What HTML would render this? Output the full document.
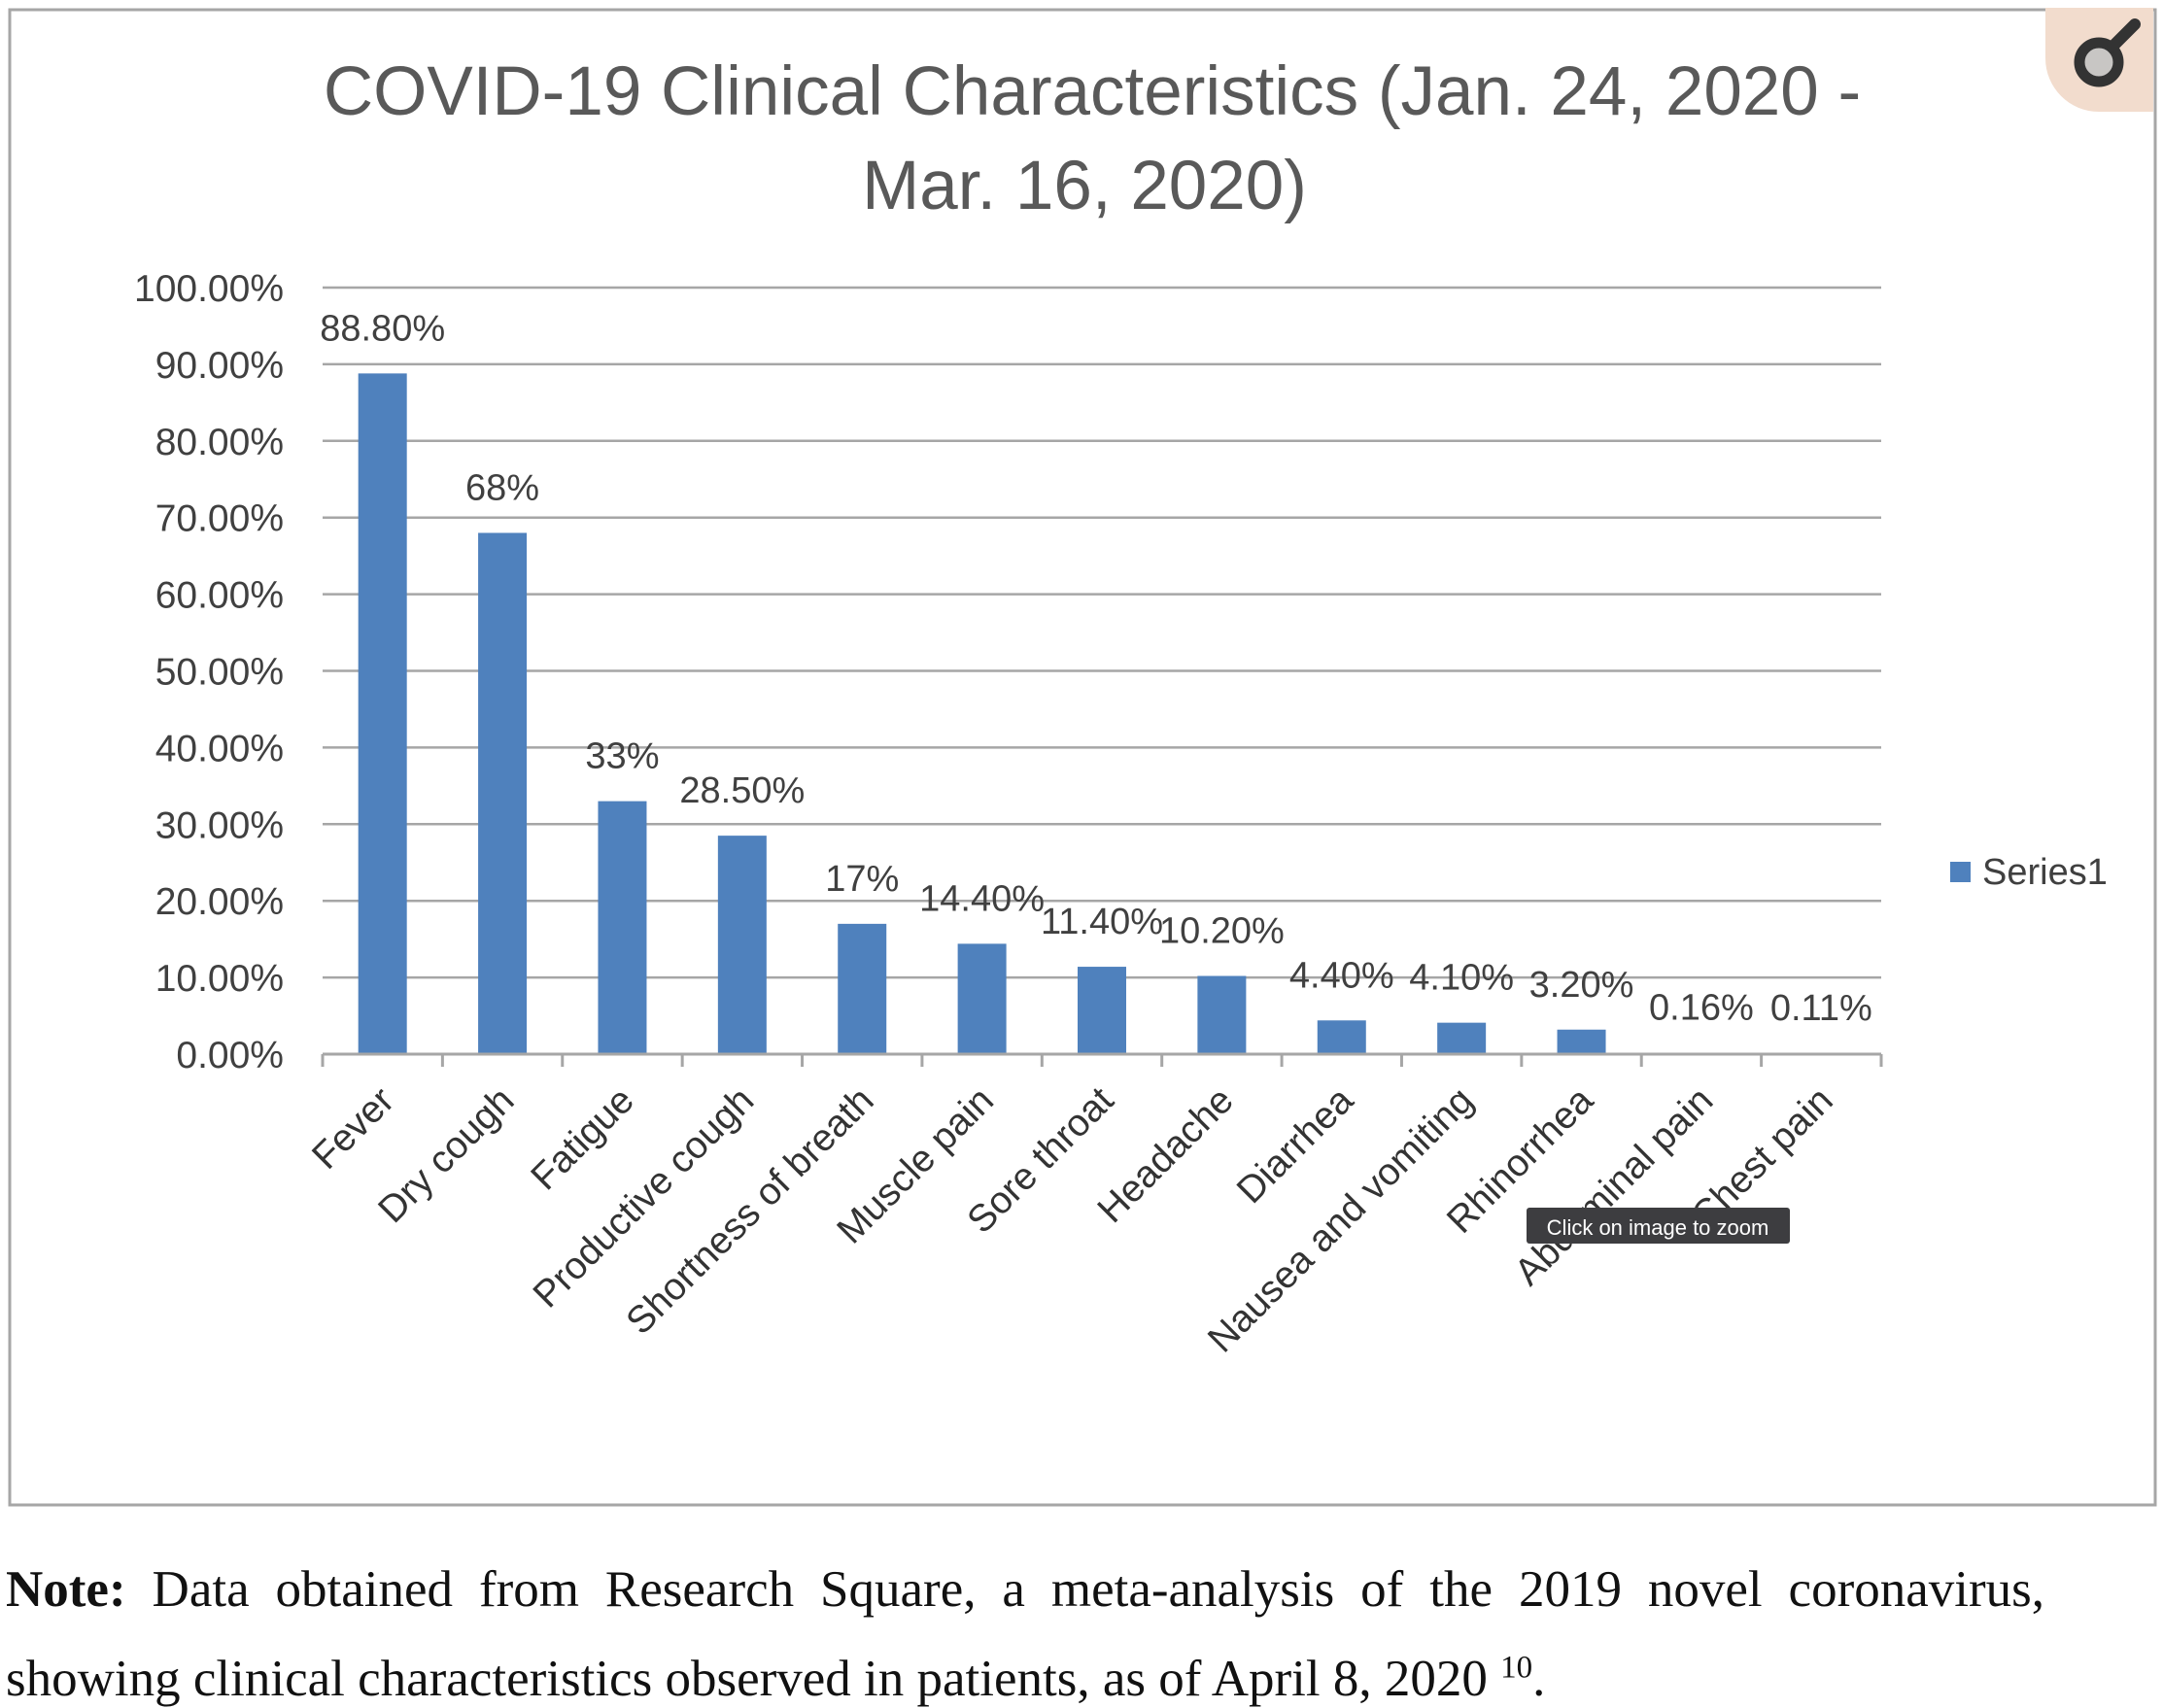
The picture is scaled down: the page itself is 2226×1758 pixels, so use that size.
<!DOCTYPE html>
<html><head><meta charset="utf-8"><style>
html,body{margin:0;padding:0;background:#fff;width:2226px;height:1758px;overflow:hidden}
svg{display:block}
.note{position:absolute;left:6px;width:2098px;font-family:"Liberation Serif",serif;font-size:53px;color:#111;text-align:justify;text-align-last:justify;line-height:53px}
</style></head><body>
<svg id="chart" width="2226" height="1758" xmlns="http://www.w3.org/2000/svg" style="position:absolute;left:0;top:0">
<rect x="10" y="10" width="2208" height="1539" fill="#fff" stroke="#a6a6a6" stroke-width="3"/>
<text x="1124" y="118" text-anchor="middle" font-family="Liberation Sans, sans-serif" font-size="71" fill="#595959">COVID-19 Clinical Characteristics (Jan. 24, 2020 -</text>
<text x="1116" y="215" text-anchor="middle" font-family="Liberation Sans, sans-serif" font-size="71" fill="#595959">Mar. 16, 2020)</text>
<g id="grid"></g><g id="bars"></g><g id="labels"></g><g id="xaxis"></g>
<rect x="2007" y="887" width="21" height="21" fill="#4f81bd"/>
<text x="2040" y="910" font-family="Liberation Sans, sans-serif" font-size="38" fill="#404040">Series1</text>
<g>
<path d="M2105 8 H2216 V115 H2160 A55 55 0 0 1 2105 60 Z" fill="#f2dccd"/>
<circle cx="2160" cy="64" r="20" fill="#c8c6c4" stroke="#333" stroke-width="11"/>
<line x1="2174" y1="48" x2="2197" y2="25" stroke="#333" stroke-width="12" stroke-linecap="round"/>
</g>
<g>
<rect x="1571" y="1243" width="271" height="37" rx="3" fill="#3d3d40"/>
<text x="1706" y="1271" text-anchor="middle" font-family="Liberation Sans, sans-serif" font-size="22" fill="#fff">Click on image to zoom</text>
</g>
</svg>
<div class="note" style="top:1610px"><b>Note:</b> Data obtained from Research Square, a meta-analysis of the 2019 novel coronavirus,</div>
<div class="note" style="top:1702px;text-align-last:left">showing clinical characteristics observed in patients, as of April 8, 2020 <sup style="font-size:33px;line-height:0">10</sup>.</div>
<script>
const categories=["Fever","Dry cough","Fatigue","Productive cough","Shortness of breath","Muscle pain","Sore throat","Headache","Diarrhea","Nausea and vomiting","Rhinorrhea","Abdominal pain","Chest pain"];
const values=[88.8,68,33,28.5,17,14.4,11.4,10.2,4.4,4.1,3.2,0.16,0.11];
const valueLabels=["88.80%","68%","33%","28.50%","17%","14.40%","11.40%","10.20%","4.40%","4.10%","3.20%","0.16%","0.11%"];
const yTicks=[0,10,20,30,40,50,60,70,80,90,100];
const yTickLabels=["0.00%","10.00%","20.00%","30.00%","40.00%","50.00%","60.00%","70.00%","80.00%","90.00%","100.00%"];
const NS="http://www.w3.org/2000/svg";
const X0=332,X1=1936,Y0=1085,Y1=296;
const slot=(X1-X0)/categories.length;
function y(v){return Y0-(v/100)*(Y0-Y1);}
function xc(i){return X0+slot*(i+0.5);}
function mk(t,a,p){const e=document.createElementNS(NS,t);for(const k in a)e.setAttribute(k,a[k]);p.appendChild(e);return e;}
const F="Liberation Sans, sans-serif";
const grid=document.getElementById('grid');
yTicks.forEach((t,i)=>{
  const l=mk('line',{x1:X0,x2:X1,y1:y(t),y2:y(t),stroke:'#a6a6a6','stroke-width':2.5},grid);
  
  
  const tx=mk('text',{x:292,y:y(t)+14,'text-anchor':'end','font-family':F,'font-size':39,fill:'#404040'},grid);
  tx.textContent=yTickLabels[i];
  
  
});
const bars=document.getElementById('bars'),labels=document.getElementById('labels'),xa=document.getElementById('xaxis');
const bw=50;
values.forEach((v,i)=>{
  const b=mk('rect',{x:xc(i)-bw/2,y:y(v),width:bw,height:Y0-y(v),fill:'#4f81bd'},bars);
  
  
  const t=mk('text',{x:xc(i),y:y(v)-34,'text-anchor':'middle','font-family':F,'font-size':38,fill:'#404040'},labels);
  t.textContent=valueLabels[i];
  
  
  const c=mk('text',{x:0,y:0,'text-anchor':'end','font-family':F,'font-size':39,fill:'#333',transform:`translate(${xc(i)+14},${Y0+50}) rotate(-45)`},xa);
  c.textContent=categories[i];
  
  
});
const ax=mk('line',{x1:X0,x2:X1,y1:Y0,y2:Y0,stroke:'#a6a6a6','stroke-width':3},xa);


for(let i=0;i<=categories.length;i++){
  const tk=mk('line',{x1:X0+slot*i,x2:X0+slot*i,y1:Y0,y2:Y0+13,stroke:'#a6a6a6','stroke-width':3},xa);
  
  
}
</script>
</body></html>
